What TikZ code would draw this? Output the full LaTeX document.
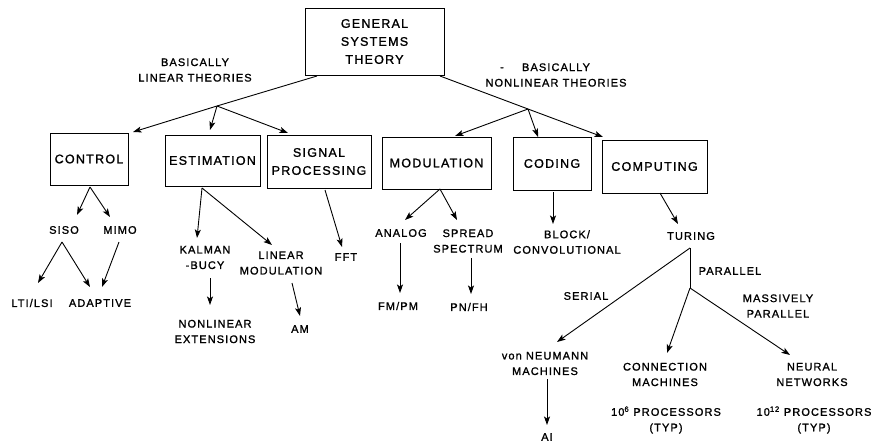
\documentclass[tikz,border=0pt]{standalone}
\usepackage{fontspec}
\setmainfont{Liberation Sans}[LetterSpace=10,FakeBold=1.3]
\usetikzlibrary{arrows.meta}
\begin{document}
\begin{tikzpicture}[x=1pt,y=-1pt,
  box/.style={draw,line width=0.9pt,inner sep=0pt,align=center,font=\fontsize{12.5}{18}\selectfont},
  lab/.style={inner sep=1pt,align=center,font=\fontsize{11}{15.5}\selectfont},
  conn/.style={line width=0.9pt},
  arr/.style={line width=0.9pt,-{Stealth[length=8.5pt,width=6pt,inset=2pt]}}]
\useasboundingbox (0,0) rectangle (876,445);
% boxes
\node[box,minimum width=139pt,minimum height=67pt] (gst) at (374.5,41.5) {GENERAL\\SYSTEMS\\THEORY};
\node[box,minimum width=78pt,minimum height=52pt] (ctrl) at (89,159) {CONTROL};
\node[box,minimum width=95pt,minimum height=51pt] (est) at (212.5,160.5) {ESTIMATION};
\node[box,minimum width=104pt,minimum height=53pt] (sp) at (319,161.5) {SIGNAL\\PROCESSING};
\node[box,minimum width=109pt,minimum height=52pt] (mod) at (436.5,163) {MODULATION};
\node[box,minimum width=78pt,minimum height=53pt] (cod) at (552,163.5) {CODING};
\node[box,minimum width=105pt,minimum height=53pt] (comp) at (654.5,166.5) {COMPUTING};
% labels
\node[lab] (linlab) at (195,70) {BASICALLY\\LINEAR THEORIES};
\node[lab] (nonlab) at (556,75) {BASICALLY\\NONLINEAR THEORIES};
\node[lab] (dash) at (502,69) {-};
\node[lab] (siso) at (64,230) {SISO};
\node[lab] (mimo) at (120,230) {MIMO};
\node[lab] (lti) at (32,303) {LTI/LSI};
\node[lab] (adapt) at (100,303) {ADAPTIVE};
\node[lab] (kal) at (205,257.5) {KALMAN\\-BUCY};
\node[lab] (linmod) at (281,263) {LINEAR\\MODULATION};
\node[lab] (nonext) at (215,331.5) {NONLINEAR\\EXTENSIONS};
\node[lab] (am) at (300,329) {AM};
\node[lab] (fft) at (346,257) {FFT};
\node[lab] (analog) at (401,233) {ANALOG};
\node[lab] (spread) at (468,241) {SPREAD\\SPECTRUM};
\node[lab] (fmpm) at (398,306) {FM/PM};
\node[lab] (pnfh) at (469,307) {PN/FH};
\node[lab] (block) at (567,242) {BLOCK/\\CONVOLUTIONAL};
\node[lab] (turing) at (691,236) {TURING};
\node[lab] (parlab) at (730,271) {PARALLEL};
\node[lab] (serlab) at (586,296) {SERIAL};
\node[lab] (maslab) at (778,306) {MASSIVELY\\PARALLEL};
\node[lab] (vonn) at (545,363.5) {von NEUMANN\\MACHINES};
\node[lab] (ai) at (547,437) {AI};
\node[lab] (connm) at (665,374.5) {CONNECTION\\MACHINES};
\node[lab] (conproc) at (666,420) {10\textsuperscript{6} PROCESSORS\\(TYP)};
\node[lab] (neural) at (812,374.5) {NEURAL\\NETWORKS};
\node[lab] (neuproc) at (814,420) {10\textsuperscript{12} PROCESSORS\\(TYP)};
% coordinates
\coordinate (gL) at (317,76);
\coordinate (jL) at (217,106);
\coordinate (tC) at (133,132);
\coordinate (tE) at (210,130);
\coordinate (tS) at (288,133);
\coordinate (gR) at (440,76);
\coordinate (jR) at (528,109);
\coordinate (tCo) at (603,137);
\coordinate (tM) at (455,136);
\coordinate (tCd) at (538,137);
\coordinate (cB) at (90,187);
\coordinate (tSiso) at (77,215);
\coordinate (tMimo) at (110,217);
\coordinate (sB) at (62,242);
\coordinate (tLti) at (38,283);
\coordinate (tAd1) at (90,287);
\coordinate (mB) at (119,242);
\coordinate (tAd2) at (102,287);
\coordinate (eB) at (202,188);
\coordinate (tKal) at (197,238);
\coordinate (tLin) at (272,245);
\coordinate (kB) at (210,278);
\coordinate (tNon) at (210,305);
\coordinate (lB) at (292,283);
\coordinate (tAm) at (300,316);
\coordinate (spB) at (325,190);
\coordinate (tFft) at (342,247);
\coordinate (moB) at (440,189);
\coordinate (tAn) at (405,220);
\coordinate (tSpr) at (457,220);
\coordinate (anB) at (400,243);
\coordinate (tFm) at (400,293);
\coordinate (sprB) at (471,258);
\coordinate (tPn) at (471,294);
\coordinate (coB) at (553,192);
\coordinate (tBl) at (553,224);
\coordinate (cmB) at (660,193);
\coordinate (tTu) at (678,224);
\coordinate (tuB) at (690,248);
\coordinate (jP) at (690,288);
\coordinate (tVon) at (557,342);
\coordinate (tConn) at (667,353);
\coordinate (tNeu) at (790,355);
\coordinate (vB) at (547,379);
\coordinate (tAi) at (547,425);
% connectors
\draw[arr] (gL) -- (jL) -- (tC);
\draw[arr] (jL) -- (tE);
\draw[arr] (jL) -- (tS);
\draw[arr] (gR) -- (jR) -- (tCo);
\draw[arr] (jR) -- (tM);
\draw[arr] (jR) -- (tCd);
\draw[arr] (cB) -- (tSiso);
\draw[arr] (cB) -- (tMimo);
\draw[arr] (sB) -- (tLti);
\draw[arr] (sB) -- (tAd1);
\draw[arr] (mB) -- (tAd2);
\draw[arr] (eB) -- (tKal);
\draw[arr] (eB) -- (tLin);
\draw[arr] (kB) -- (tNon);
\draw[arr] (lB) -- (tAm);
\draw[arr] (spB) -- (tFft);
\draw[arr] (moB) -- (tAn);
\draw[arr] (moB) -- (tSpr);
\draw[arr] (anB) -- (tFm);
\draw[arr] (sprB) -- (tPn);
\draw[arr] (coB) -- (tBl);
\draw[arr] (cmB) -- (tTu);
\draw[conn] (tuB) -- (jP);
\draw[arr] (tuB) -- (tVon);
\draw[arr] (jP) -- (tConn);
\draw[arr] (jP) -- (tNeu);
\draw[arr] (vB) -- (tAi);
\end{tikzpicture}
\end{document}
